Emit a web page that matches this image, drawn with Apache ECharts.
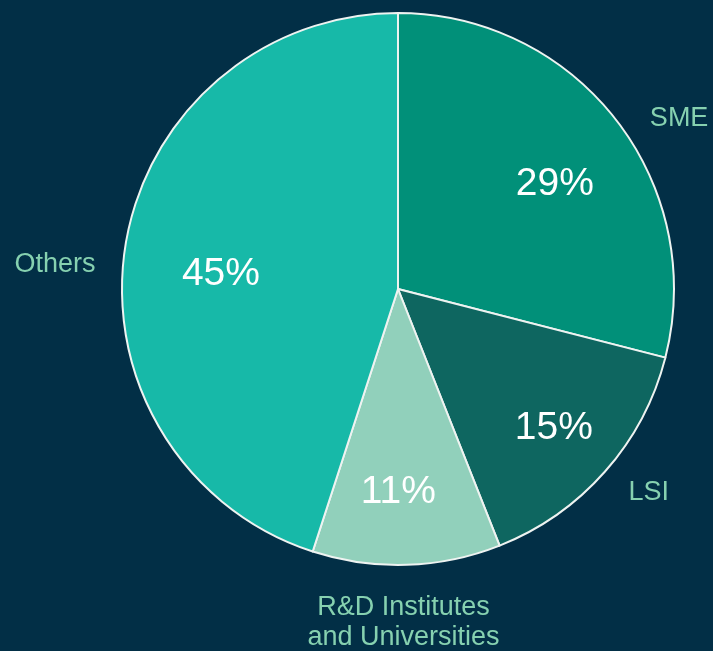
<!DOCTYPE html>
<html>
<head>
<meta charset="utf-8">
<script src="https://cdn.jsdelivr.net/npm/echarts@6/dist/echarts.min.js"></script>
<style>
html,body{margin:0;padding:0;background:#022f46;}
#chart{width:713px;height:651px;}
</style>
</head>
<body>
<div id="chart"></div>
<script>
// ---- data ----
const categories = ['SME', 'LSI', 'R&D Institutes\nand Universities', 'Others'];
const shares = [29, 15, 11, 45];

// ---- styling / layout (not data) ----
const sliceColors = ['#019079', '#0e6660', '#91d0bb', '#17b9a8'];
const pctLabelShift = [[0, 17], [7, 8], [-6, 5], [19, 16]];
const nameLabelShift = [[18, 34], [1, -17], [-5, 1], [-14, 28]];
const center = [398, 289];
const R = 276;

const seriesData = categories.map((c, i) => ({ name: c, value: shares[i] }));

const chart = echarts.init(document.getElementById('chart'), null, { renderer: 'canvas' });
chart.setOption({
  backgroundColor: '#022f46',
  animation: false,
  color: sliceColors,
  series: [
    {
      type: 'pie',
      center: center,
      radius: [0, R],
      startAngle: 90,
      clockwise: true,
      silent: true,
      data: seriesData,
      itemStyle: { borderColor: '#eef3f1', borderWidth: 2 },
      label: { show: false },
      labelLine: { show: false }
    },
    {
      type: 'pie',
      center: center,
      radius: [115, R],
      startAngle: 90,
      clockwise: true,
      silent: true,
      data: seriesData,
      itemStyle: { color: 'transparent', borderWidth: 0 },
      label: {
        show: true,
        position: 'inside',
        formatter: '{c}%',
        color: '#ffffff',
        fontFamily: 'Liberation Sans, Arial, sans-serif',
        fontSize: 39
      },
      labelLine: { show: false },
      labelLayout: p => ({ dx: pctLabelShift[p.dataIndex][0], dy: pctLabelShift[p.dataIndex][1] })
    },
    {
      type: 'pie',
      center: center,
      radius: [R, 384],
      startAngle: 90,
      clockwise: true,
      silent: true,
      data: seriesData,
      itemStyle: { color: 'transparent', borderWidth: 0 },
      label: {
        show: true,
        position: 'inside',
        formatter: '{b}',
        color: '#86d1b0',
        fontFamily: 'Liberation Sans, Arial, sans-serif',
        fontSize: 27,
        lineHeight: 30,
        align: 'center'
      },
      labelLine: { show: false },
      labelLayout: p => ({ dx: nameLabelShift[p.dataIndex][0], dy: nameLabelShift[p.dataIndex][1] })
    }
  ]
});
</script>
</body>
</html>
